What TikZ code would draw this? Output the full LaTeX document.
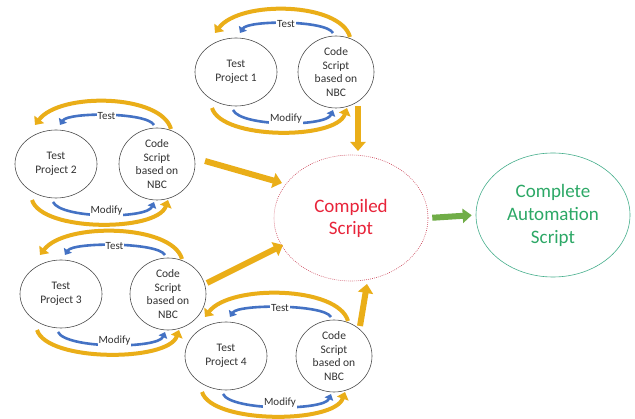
\documentclass[tikz,border=0pt]{standalone}
\usepackage{fontspec}
\setmainfont{Carlito}
\usetikzlibrary{shapes.geometric,arrows.meta}
\definecolor{gold}{RGB}{234,174,24}
\definecolor{bluearr}{RGB}{68,114,196}
\definecolor{redtxt}{RGB}{232,36,58}
\definecolor{reddot}{RGB}{205,70,90}
\definecolor{greentxt}{RGB}{44,168,102}
\definecolor{greenline}{RGB}{70,175,140}
\definecolor{greenarr}{RGB}{112,173,71}
\definecolor{txtgray}{RGB}{50,50,50}
\tikzset{
  projbox/.style={ellipse,draw=black!70,line width=0.6pt,inner sep=0pt,minimum width=82pt,minimum height=68pt,align=center,font=\fontsize{11.5}{13.5}\selectfont,text=txtgray},
  codebox/.style={ellipse,draw=black!70,line width=0.6pt,inner sep=0pt,minimum width=76pt,minimum height=72pt,align=center,font=\fontsize{11.5}{13.5}\selectfont,text=txtgray},
  yarr/.style={draw=gold,line width=4pt,-{Triangle[length=7pt,width=12pt]}},
  barr/.style={draw=bluearr,line width=2.6pt,-{Triangle[length=5.5pt,width=9pt]}},
  lbl/.style={fill=white,inner sep=1pt,font=\fontsize{11}{13}\selectfont,text=txtgray},
  bigy/.style={draw=gold,line width=6pt,-{Triangle[length=9pt,width=15pt]}},
  bigg/.style={draw=greenarr,line width=6pt,-{Triangle[length=9pt,width=14pt]}}
}
\newcommand\mygroup[5]{%
  \node[projbox] (#1L) at (#2,#4) {Test\\Project #5};
  \node[codebox] (#1R) at (#3,#4) {Code\\Script\\based on\\NBC};
  \draw[yarr] ([shift={(14,-35)}]#1R.center) .. controls ([shift={(4,-70)}]#1R.center) and ([shift={(4,-72)}]#1L.center) .. ([shift={(-21,-39)}]#1L.center);
  \draw[barr] ([shift={(-3,-39)}]#1R.center) .. controls ([shift={(-10,-52)}]#1R.center) and ([shift={(12,-52)}]#1L.center) .. ([shift={(4,-39)}]#1L.center);
  \path (#1L.center) -- (#1R.center) node[midway,lbl,yshift=48pt] (#1t) {Test};
  \draw[yarr] ([shift={(-24,36)}]#1L.center) .. controls ([shift={(-14,68)}]#1L.center) and ([shift={(0,68)}]#1R.center) .. ([shift={(11,36)}]#1R.center);
  \draw[barr] ([shift={(-3,38)}]#1L.center) .. controls ([shift={(5,55)}]#1L.center) and ([shift={(-10,55)}]#1R.center) .. ([shift={(-3,38)}]#1R.center);
  \path (#1L.center) -- (#1R.center) node[midway,lbl,yshift=-47pt] (#1m) {Modify};
}
\begin{document}
\begin{tikzpicture}[x=1pt,y=-1pt]
\useasboundingbox[fill=white] (0,0) rectangle (635,419);
\mygroup{ga}{236}{336}{72}{1}
\mygroup{gb}{56}{157}{164}{2}
\mygroup{gc}{61}{168}{294}{3}
\mygroup{gd}{226}{334}{356}{4}
\node[ellipse,draw=reddot,line width=0.6pt,dash pattern=on 0.8pt off 1.2pt,minimum width=154pt,minimum height=126pt,inner sep=0pt,align=center,text=redtxt,font=\fontsize{19}{22}\selectfont] (comp) at (351,218) {Compiled\\Script};
\node[ellipse,draw=greenline,line width=0.6pt,minimum width=154pt,minimum height=124pt,inner sep=0pt,align=center,text=greentxt,font=\fontsize{19}{23}\selectfont] (auto) at (553,215) {Complete\\Automation\\Script};
\draw[bigy] ([shift={(22,34)}]gaR.center) -- ([shift={(7,-67)}]comp.center);
\draw[bigy] ([shift={(48,-3)}]gbR.center) -- ([shift={(-69,-35)}]comp.center);
\draw[bigy] ([shift={(39,-11)}]gcR.center) -- ([shift={(-68,27)}]comp.center);
\draw[bigy] ([shift={(26,-30)}]gdR.center) -- ([shift={(16,66)}]comp.center);
\draw[bigg,shorten <=4pt,shorten >=4pt] (comp.east) -- (auto.west);
\end{tikzpicture}
\end{document}
